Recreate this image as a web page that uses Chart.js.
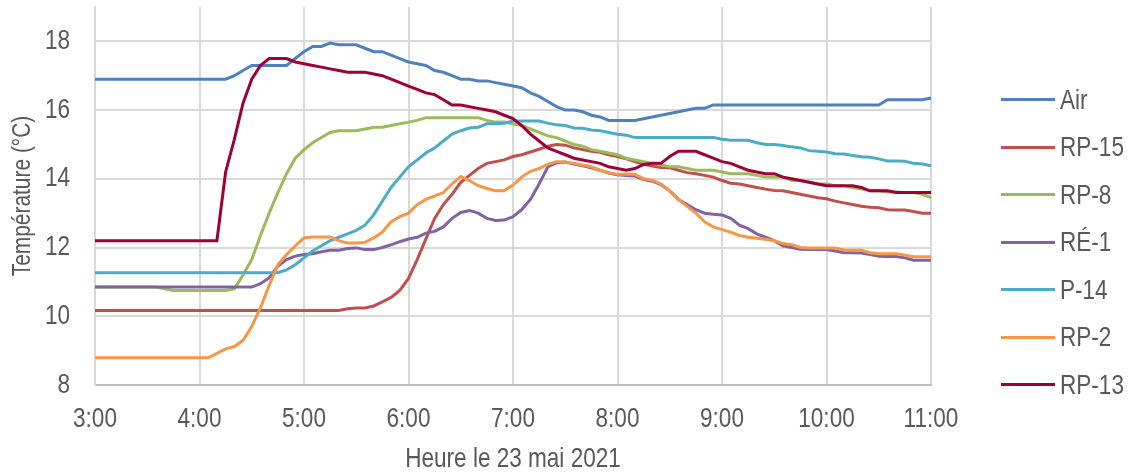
<!DOCTYPE html>
<html lang="fr">
<head>
<meta charset="utf-8">
<title>Température – 23 mai 2021</title>
<script src="https://cdn.jsdelivr.net/npm/chart.js@4.4.1/dist/chart.umd.min.js"></script>
<style>
  html, body { margin: 0; padding: 0; background: #fff; }
  #wrap { width: 1131px; height: 473px; position: relative; }
  #legend { position: absolute; left: 1001px; top: 76px; margin: 0; padding: 0; list-style: none; }
  #legend li { height: 47.5px; display: flex; align-items: center; white-space: nowrap; }
  #legend .swatch { width: 54px; height: 3px; margin-right: 5px; }
  #legend .name {
      font: 27.5px 'Liberation Sans', Arial, sans-serif; color: #595959;
      transform: scaleX(0.82); transform-origin: left center;
  }
</style>
</head>
<body>
<div id="wrap">
  <canvas id="chart"></canvas>
  <ul id="legend"></ul>
</div>
<script>
// 5-minute readings, 3:00 to 11:00
const times = [
    '3:00', '3:05', '3:10', '3:15', '3:20', '3:25', '3:30', '3:35', '3:40', '3:45', '3:50', '3:55',
    '4:00', '4:05', '4:10', '4:15', '4:20', '4:25', '4:30', '4:35', '4:40', '4:45', '4:50', '4:55',
    '5:00', '5:05', '5:10', '5:15', '5:20', '5:25', '5:30', '5:35', '5:40', '5:45', '5:50', '5:55',
    '6:00', '6:05', '6:10', '6:15', '6:20', '6:25', '6:30', '6:35', '6:40', '6:45', '6:50', '6:55',
    '7:00', '7:05', '7:10', '7:15', '7:20', '7:25', '7:30', '7:35', '7:40', '7:45', '7:50', '7:55',
    '8:00', '8:05', '8:10', '8:15', '8:20', '8:25', '8:30', '8:35', '8:40', '8:45', '8:50', '8:55',
    '9:00', '9:05', '9:10', '9:15', '9:20', '9:25', '9:30', '9:35', '9:40', '9:45', '9:50', '9:55',
    '10:00', '10:05', '10:10', '10:15', '10:20', '10:25', '10:30', '10:35', '10:40', '10:45', '10:50', '10:55',
    '11:00'
];

const air = [
    16.9, 16.9, 16.9, 16.9, 16.9, 16.9, 16.9, 16.9, 16.9, 16.9, 16.9, 16.9,
    16.9, 16.9, 16.9, 16.9, 17.0, 17.15, 17.3, 17.3, 17.3, 17.3, 17.3, 17.5,
    17.7, 17.85, 17.85, 17.95, 17.9, 17.9, 17.9, 17.8, 17.7, 17.7, 17.6, 17.5,
    17.4, 17.35, 17.3, 17.15, 17.1, 17.0, 16.9, 16.9, 16.85, 16.85, 16.8, 16.75,
    16.7, 16.65, 16.5, 16.4, 16.25, 16.1, 16.0, 16.0, 15.95, 15.85, 15.8, 15.7,
    15.7, 15.7, 15.7, 15.75, 15.8, 15.85, 15.9, 15.95, 16.0, 16.05, 16.05, 16.15,
    16.15, 16.15, 16.15, 16.15, 16.15, 16.15, 16.15, 16.15, 16.15, 16.15, 16.15, 16.15,
    16.15, 16.15, 16.15, 16.15, 16.15, 16.15, 16.15, 16.3, 16.3, 16.3, 16.3, 16.3,
    16.35
];

const rp15 = [
    10.17, 10.17, 10.17, 10.17, 10.17, 10.17, 10.17, 10.17, 10.17, 10.17, 10.17, 10.17,
    10.17, 10.17, 10.17, 10.17, 10.17, 10.17, 10.17, 10.17, 10.17, 10.17, 10.17, 10.17,
    10.17, 10.17, 10.17, 10.17, 10.17, 10.22, 10.24, 10.24, 10.3, 10.42, 10.55, 10.75,
    11.1, 11.65, 12.25, 12.85, 13.25, 13.55, 13.9, 14.1, 14.3, 14.45, 14.5, 14.55,
    14.65, 14.7, 14.78, 14.86, 14.95, 15.0, 14.98, 14.9, 14.85, 14.8, 14.77, 14.7,
    14.65, 14.58, 14.5, 14.42, 14.37, 14.33, 14.32, 14.25, 14.18, 14.15, 14.1, 14.05,
    13.95, 13.87, 13.85, 13.8, 13.75, 13.7, 13.66, 13.65, 13.6, 13.55, 13.5, 13.45,
    13.42, 13.35, 13.3, 13.25, 13.2, 13.17, 13.16, 13.1, 13.09, 13.09, 13.05, 13.0,
    13.0
];

const rp8 = [
    10.85, 10.85, 10.85, 10.85, 10.85, 10.85, 10.85, 10.85, 10.8, 10.75, 10.75, 10.75,
    10.75, 10.75, 10.75, 10.75, 10.8, 11.2, 11.65, 12.35, 13.0, 13.6, 14.15, 14.6,
    14.85, 15.05, 15.2, 15.35, 15.4, 15.4, 15.4, 15.45, 15.5, 15.5, 15.55, 15.6,
    15.65, 15.7, 15.78, 15.78, 15.78, 15.78, 15.78, 15.78, 15.78, 15.7, 15.65, 15.65,
    15.6, 15.55, 15.45, 15.35, 15.25, 15.2, 15.1, 15.0, 14.95, 14.85, 14.8, 14.75,
    14.7, 14.6, 14.55, 14.5, 14.45, 14.4, 14.35, 14.35, 14.3, 14.25, 14.25, 14.25,
    14.2, 14.15, 14.15, 14.15, 14.1, 14.05, 14.05, 14.05, 13.95, 13.95, 13.9, 13.85,
    13.85, 13.8, 13.8, 13.75, 13.7, 13.65, 13.65, 13.62, 13.62, 13.6, 13.6, 13.55,
    13.45
];

const re1 = [
    10.85, 10.85, 10.85, 10.85, 10.85, 10.85, 10.85, 10.85, 10.85, 10.85, 10.85, 10.85,
    10.85, 10.85, 10.85, 10.85, 10.85, 10.85, 10.85, 10.95, 11.12, 11.46, 11.65, 11.75,
    11.8, 11.82, 11.88, 11.92, 11.92, 11.97, 11.99, 11.94, 11.94, 12.0, 12.08, 12.17,
    12.25, 12.3, 12.42, 12.47, 12.6, 12.85, 13.02, 13.08, 13.0, 12.85, 12.79, 12.8,
    12.9, 13.1, 13.4, 13.85, 14.35, 14.47, 14.49, 14.43, 14.38, 14.32, 14.25, 14.17,
    14.12, 14.1, 14.08, 13.98, 13.93, 13.83, 13.65, 13.4, 13.25, 13.1, 13.0, 12.97,
    12.95, 12.85, 12.65, 12.55, 12.4, 12.3, 12.2, 12.05, 12.0, 11.95, 11.94, 11.94,
    11.94, 11.9, 11.85, 11.85, 11.84, 11.8, 11.75, 11.74, 11.74, 11.7, 11.63, 11.63,
    11.63
];

const p14 = [
    11.27, 11.27, 11.27, 11.27, 11.27, 11.27, 11.27, 11.27, 11.27, 11.27, 11.27, 11.27,
    11.27, 11.27, 11.27, 11.27, 11.27, 11.27, 11.27, 11.27, 11.27, 11.27, 11.35, 11.5,
    11.7, 11.9, 12.05, 12.2, 12.3, 12.4, 12.5, 12.65, 12.95, 13.35, 13.75, 14.05,
    14.35, 14.55, 14.75, 14.9, 15.1, 15.3, 15.4, 15.48, 15.5, 15.6, 15.6, 15.62,
    15.68, 15.68, 15.68, 15.68, 15.62, 15.57, 15.55, 15.48, 15.47, 15.42, 15.4, 15.35,
    15.3, 15.27, 15.2, 15.2, 15.2, 15.2, 15.2, 15.2, 15.2, 15.2, 15.2, 15.2,
    15.15, 15.12, 15.12, 15.12, 15.05, 15.0, 15.0, 14.97, 14.93, 14.9, 14.82, 14.8,
    14.78, 14.73, 14.72, 14.68, 14.64, 14.63, 14.58, 14.52, 14.52, 14.51, 14.45, 14.43,
    14.38
];

const rp2 = [
    8.79, 8.79, 8.79, 8.79, 8.79, 8.79, 8.79, 8.79, 8.79, 8.79, 8.79, 8.79,
    8.79, 8.79, 8.92, 9.05, 9.12, 9.3, 9.7, 10.25, 10.9, 11.5, 11.8, 12.05,
    12.28, 12.31, 12.31, 12.31, 12.2, 12.13, 12.13, 12.15, 12.28, 12.45, 12.75, 12.9,
    13.0, 13.25, 13.4, 13.5, 13.6, 13.85, 14.07, 13.95, 13.8, 13.72, 13.65, 13.65,
    13.82, 14.05, 14.22, 14.3, 14.42, 14.5, 14.49, 14.45, 14.4, 14.35, 14.25, 14.18,
    14.13, 14.13, 14.13, 14.0, 13.96, 13.85, 13.65, 13.4, 13.2, 13.0, 12.75, 12.6,
    12.52, 12.45, 12.35, 12.3, 12.27, 12.24, 12.2, 12.12, 12.08, 12.0, 11.99, 11.99,
    11.99, 11.99, 11.93, 11.92, 11.92, 11.85, 11.82, 11.82, 11.82, 11.78, 11.73, 11.73,
    11.73
];

const rp13 = [
    12.2, 12.2, 12.2, 12.2, 12.2, 12.2, 12.2, 12.2, 12.2, 12.2, 12.2, 12.2,
    12.2, 12.2, 12.2, 14.2, 15.15, 16.2, 16.9, 17.3, 17.5, 17.5, 17.5, 17.4,
    17.35, 17.3, 17.25, 17.2, 17.15, 17.1, 17.1, 17.1, 17.05, 17.0, 16.9, 16.8,
    16.7, 16.6, 16.5, 16.45, 16.3, 16.15, 16.15, 16.1, 16.05, 16.0, 15.95, 15.85,
    15.75, 15.55, 15.3, 15.1, 14.9, 14.8, 14.7, 14.6, 14.55, 14.5, 14.45, 14.35,
    14.3, 14.25, 14.3, 14.42, 14.45, 14.45, 14.65, 14.8, 14.8, 14.8, 14.7, 14.6,
    14.5, 14.45, 14.35, 14.25, 14.2, 14.15, 14.15, 14.05, 14.0, 13.95, 13.9, 13.85,
    13.8, 13.8, 13.8, 13.8, 13.75, 13.65, 13.65, 13.65, 13.6, 13.6, 13.6, 13.6,
    13.6
];

const series = [
    { label: 'Air',   data: air,  color: '#4f81bd' },
    { label: 'RP-15', data: rp15, color: '#c0504d' },
    { label: 'RP-8',  data: rp8,  color: '#9bbb59' },
    { label: 'RÉ-1',  data: re1,  color: '#8064a2' },
    { label: 'P-14',  data: p14,  color: '#4bacc6' },
    { label: 'RP-2',  data: rp2,  color: '#f79646' },
    { label: 'RP-13', data: rp13, color: '#9e0036' },
];

const yTicks = [8, 10, 12, 14, 16, 18];

const TEXT = '#595959';
const GRID = '#d9d9d9';
const isHour = i => times[i] && times[i].endsWith(':00');

// No narrow face is installed, so squeeze the regular one horizontally
const SQUEEZE = 0.82;
const condensedText = {
    id: 'condensedText',
    beforeDraw(chart) {
        const ctx = chart.ctx;
        if (ctx._condensed) return;
        const fillText = ctx.fillText;
        ctx.fillText = function (text, x, y, maxWidth) {
            this.save();
            this.translate(x, y);
            this.scale(SQUEEZE, 1);
            if (maxWidth === undefined) fillText.call(this, text, 0, 0);
            else fillText.call(this, text, 0, 0, maxWidth / SQUEEZE);
            this.restore();
        };
        ctx._condensed = true;
    }
};

Chart.defaults.font.family = "'Liberation Sans', Arial, sans-serif";
Chart.defaults.color = TEXT;

const chart = new Chart(document.getElementById('chart'), {
    type: 'line',
    plugins: [condensedText],
    data: {
        labels: times,
        // later series are painted on top
        datasets: series.map((s, i) => ({
            label: s.label,
            data: s.data,
            borderColor: s.color,
            backgroundColor: s.color,
            borderWidth: 3,
            pointRadius: 0,
            tension: 0,
            order: series.length - i,
        }))
    },
    options: {
        responsive: true,
        maintainAspectRatio: false,
        animation: false,
        layout: { padding: { left: 0, right: 200, top: 7, bottom: 0 } },
        plugins: {
            tooltip: { enabled: false },
            legend: { display: false }
        },
        scales: {
            x: {
                type: 'category',
                afterFit: axis => { axis.height = 88; },
                grid: {
                    drawTicks: false,
                    lineWidth: 2,
                    color: c => isHour(c.index) ? GRID : 'transparent'
                },
                border: { color: '#bfbfbf', width: 2 },
                ticks: {
                    autoSkip: false,
                    maxRotation: 0,
                    minRotation: 0,
                    padding: 18,
                    font: { size: 27.5 },
                    callback: (v, i) => isHour(i) ? times[i] : ''
                },
                title: {
                    display: true,
                    text: 'Heure le 23 mai 2021',
                    font: { size: 27.5, lineHeight: 1 },
                    padding: { top: 0, bottom: 0 }
                }
            },
            y: {
                min: 8,
                max: 19,
                afterBuildTicks: axis => { axis.ticks = yTicks.map(v => ({ value: v })); },
                afterFit: axis => {
                    axis.width = 95;
                    axis.paddingTop = 0;
                    axis.paddingBottom = 0;
                },
                grid: { drawTicks: false, lineWidth: 2, color: GRID },
                border: { color: GRID, width: 2 },
                ticks: {
                    padding: 25,
                    font: { size: 27.5 }
                },
                title: {
                    display: true,
                    text: 'Température (°C)',
                    font: { size: 25.5, lineHeight: 1.2 },
                    padding: { top: 7.7, bottom: 0 }
                }
            }
        }
    }
});

// legend list to the right of the plot
const legend = document.getElementById('legend');
legend.innerHTML = chart.data.datasets.map(ds => `
    <li><span class="swatch" style="background:${ds.borderColor}"></span><span class="name">${ds.label}</span></li>
`).join('');
</script>
</body>
</html>
